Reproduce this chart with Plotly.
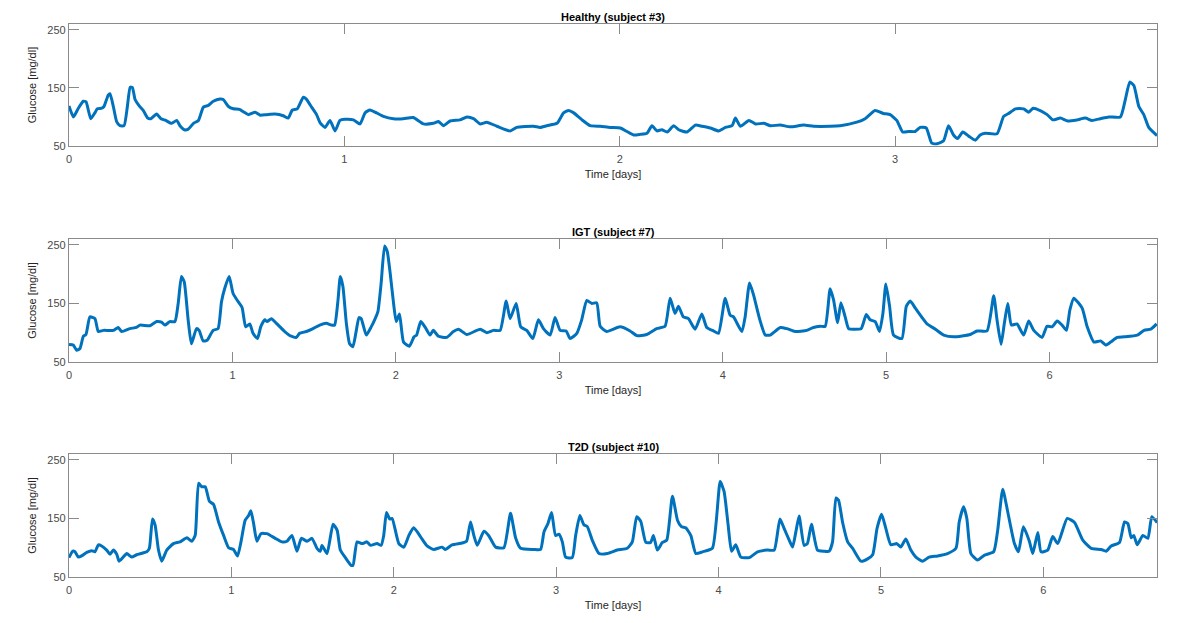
import plotly.graph_objects as go

# ---------------- data ----------------
healthy_t = [0, 0.016, 0.034, 0.052, 0.062, 0.079, 0.094, 0.103, 0.119, 0.127, 0.143, 0.149, 0.161, 0.173, 0.185, 0.2,
             0.212, 0.222, 0.23, 0.24, 0.255, 0.27, 0.286, 0.297, 0.318, 0.334, 0.351, 0.373, 0.391, 0.403, 0.419, 0.433,
             0.452, 0.47, 0.488, 0.506, 0.524, 0.548, 0.56, 0.579, 0.597, 0.619, 0.633, 0.651, 0.676, 0.694, 0.718, 0.748,
             0.778, 0.796, 0.811, 0.829, 0.851, 0.861, 0.881, 0.899, 0.912, 0.93, 0.948, 0.966, 0.984, 1.002, 1.033, 1.057,
             1.075, 1.093, 1.117, 1.142, 1.178, 1.214, 1.25,
             1.287, 1.323, 1.342, 1.36, 1.384, 1.42, 1.445, 1.469, 1.493, 1.517, 1.554, 1.602, 1.626, 1.687, 1.711, 1.735,
             1.772, 1.796, 1.814, 1.833, 1.863, 1.893, 1.929, 1.965, 2.002, 2.026, 2.05, 2.074, 2.099, 2.117, 2.135, 2.153,
             2.172, 2.196, 2.214, 2.244, 2.275, 2.299, 2.329, 2.359, 2.384, 2.408, 2.42, 2.438, 2.469, 2.493, 2.523, 2.547,
             2.583, 2.619, 2.668, 2.704, 2.765, 2.8, 2.861, 2.891, 2.927, 2.958, 2.982, 3.006, 3.028, 3.049, 3.073, 3.091,
             3.113, 3.133, 3.152, 3.176, 3.194, 3.212, 3.227, 3.246, 3.267, 3.291, 3.309, 3.327, 3.37, 3.394, 3.412, 3.437,
             3.467, 3.485, 3.501, 3.527, 3.552, 3.573, 3.6, 3.627, 3.661, 3.691, 3.715, 3.745, 3.776, 3.818, 3.836, 3.852,
             3.867, 3.885, 3.903, 3.921, 3.951]
healthy_g = [119, 100, 115, 127, 126, 97, 107, 114, 115, 118, 138, 140, 118, 92, 85, 85,
             118, 151, 151, 130, 119, 111, 98, 97, 105, 97, 94, 89, 94, 85, 78, 79,
             89, 94, 117, 120, 127, 131, 130, 118, 114, 113, 109, 104, 108, 103, 104, 105,
             102, 98, 112, 114, 134, 131, 117, 104, 90, 82, 94, 76, 94, 96, 95, 88,
             107, 112, 107, 101, 97, 97, 99,
             88, 89, 92, 85, 93, 95, 100, 97, 88, 91, 84, 76, 82, 84, 82, 85,
             89, 107, 111, 107, 95, 85, 84, 82, 81, 75, 69, 70, 72, 85, 76, 78,
             74, 85, 78, 74, 86, 84, 81, 76, 82, 85, 98, 84, 94, 88, 89, 85,
             86, 83, 86, 84, 84, 85, 91, 97, 111, 106, 104, 94, 74, 75, 75, 82,
             81, 55, 54, 59, 85, 69, 63, 74, 67, 60, 69, 72, 71, 101, 106, 114,
             114, 108, 115, 111, 104, 95, 98, 93, 95, 98, 94, 97, 100, 100, 130, 160,
             154, 118, 104, 82, 68]

igt_t = [0, 0.026, 0.047, 0.067, 0.088, 0.104, 0.128, 0.159, 0.179, 0.21, 0.271, 0.301, 0.322, 0.373, 0.413, 0.434,
         0.495, 0.536, 0.566, 0.587, 0.617, 0.648, 0.668, 0.688, 0.705, 0.729, 0.749, 0.78, 0.796, 0.821, 0.845, 0.882,
         0.912, 0.933, 0.953, 0.98, 1.004, 1.035, 1.059, 1.081, 1.106, 1.126, 1.153, 1.173, 1.198, 1.212, 1.238, 1.269,
         1.32, 1.36, 1.391, 1.411, 1.452, 1.493, 1.534, 1.574, 1.605, 1.625, 1.646, 1.66, 1.676, 1.697, 1.717, 1.737,
         1.758, 1.774, 1.788, 1.819, 1.849, 1.87, 1.89, 1.91, 1.931, 1.947, 1.965, 1.988, 2.002, 2.022, 2.047, 2.083,
         2.111, 2.127, 2.152, 2.178, 2.209, 2.229, 2.26, 2.311, 2.352, 2.383, 2.434, 2.516, 2.556, 2.597, 2.638, 2.675,
         2.699, 2.736, 2.764, 2.801, 2.838, 2.872, 2.903, 2.944, 2.974, 3.005, 3.042, 3.066, 3.107, 3.137, 3.168, 3.199,
         3.229, 3.25, 3.29, 3.372, 3.433, 3.474, 3.535, 3.596, 3.647, 3.678, 3.708, 3.729, 3.759, 3.79, 3.831, 3.872,
         3.902, 3.943, 3.974, 4.015, 4.045, 4.066, 4.117, 4.137, 4.164, 4.188, 4.225, 4.26, 4.29, 4.352,
         4.392, 4.443, 4.514, 4.555, 4.596, 4.627, 4.657, 4.678, 4.703, 4.723, 4.749, 4.77, 4.8, 4.847, 4.878, 4.902,
         4.933, 4.959, 4.98, 4.998, 5.021, 5.045, 5.096, 5.123, 5.147, 5.178, 5.219, 5.25, 5.301, 5.352, 5.413, 5.515,
         5.556, 5.617, 5.658, 5.678, 5.703, 5.723, 5.744, 5.766, 5.8, 5.841, 5.872, 5.903, 5.954, 5.984, 6.015, 6.046,
         6.076, 6.103, 6.124, 6.148, 6.199, 6.23, 6.271, 6.312, 6.343, 6.373, 6.414, 6.455, 6.537, 6.578, 6.619, 6.655]
igt_g = [80, 79, 70, 73, 94, 97, 127, 124, 102, 104, 104, 109, 102, 107, 109, 113,
         112, 119, 118, 113, 119, 119, 150, 196, 187, 122, 81, 107, 104, 86, 87, 104,
         107, 153, 176, 196, 167, 153, 143, 110, 115, 99, 90, 110, 122, 119, 124, 116,
         102, 94, 92, 99, 102, 107, 113, 116, 113, 113, 156, 196, 179, 116, 81, 76,
         104, 126, 124, 96, 110, 122, 136, 185, 248, 239, 202, 145, 119, 132, 84, 77,
         93, 96, 119, 110, 96, 104, 94, 92, 102, 106, 97, 106, 100, 104, 104, 154,
         124, 150, 110, 104, 90, 122, 107, 96, 126, 104, 103, 90, 99, 122, 155, 150,
         151, 111, 102, 110, 103, 95, 97, 107, 111, 159, 133, 145, 127, 124, 106, 132,
         109, 103, 99, 159, 130, 127, 102, 127, 185, 165, 124, 96, 96, 109,
         107, 102, 104, 109, 111, 111, 175, 156, 117, 151, 127, 107, 106, 107, 131, 122,
         119, 102, 133, 183, 145, 96, 90, 145, 154, 142, 126, 115, 106, 96, 93, 97,
         103, 103, 163, 122, 80, 116, 150, 113, 115, 96, 120, 104, 92, 111, 110, 120,
         113, 104, 139, 159, 142, 110, 84, 86, 79, 84, 92, 93, 96, 104, 106, 115]

t2d_t = [0, 0.023, 0.037, 0.058, 0.078, 0.109, 0.14, 0.16, 0.181, 0.201, 0.232, 0.253, 0.273, 0.294, 0.308, 0.331,
         0.356, 0.386, 0.417, 0.479, 0.495, 0.514, 0.53, 0.551, 0.571, 0.602, 0.643, 0.684, 0.726, 0.756, 0.777, 0.798,
         0.818, 0.839, 0.865, 0.89, 0.921, 0.952, 0.983, 1.013, 1.038, 1.059, 1.085, 1.106, 1.12, 1.137, 1.157, 1.182,
         1.219, 1.27, 1.311, 1.342, 1.373, 1.404, 1.431, 1.466, 1.496, 1.527, 1.548, 1.558, 1.589, 1.626, 1.651, 1.671,
         1.702, 1.737, 1.749, 1.774, 1.805, 1.835, 1.856, 1.897, 1.922, 1.938, 1.955, 1.975, 1.99, 2.031, 2.062, 2.093,
         2.123, 2.164, 2.205, 2.246, 2.298, 2.318, 2.359, 2.421, 2.448, 2.473, 2.493, 2.514, 2.555, 2.586, 2.627, 2.678,
         2.719, 2.75, 2.781, 2.863, 2.904, 2.925, 2.949, 2.972, 2.996, 3.017, 3.038, 3.058, 3.099, 3.12, 3.146, 3.171,
         3.192, 3.222, 3.264, 3.315, 3.376, 3.438, 3.469, 3.496, 3.521, 3.552, 3.582, 3.599, 3.623, 3.654, 3.681, 3.716,
         3.747, 3.771, 3.798, 3.829, 3.86, 3.901, 3.962, 4.01, 4.034, 4.059, 4.08, 4.106, 4.137, 4.189, 4.24, 4.302,
         4.343, 4.378, 4.405, 4.435, 4.456, 4.476, 4.496, 4.527, 4.547, 4.572, 4.609, 4.65, 4.681, 4.702, 4.723, 4.739,
         4.764, 4.795, 4.826, 4.877, 4.918, 4.949, 4.976, 5.004, 5.03, 5.061, 5.098, 5.122, 5.153, 5.184, 5.215, 5.256,
         5.297, 5.349, 5.41, 5.462, 5.482, 5.509, 5.529, 5.554, 5.595, 5.636, 5.694, 5.719, 5.75, 5.781, 5.822, 5.847,
         5.877, 5.914, 5.935, 5.966, 5.986, 6.027, 6.058, 6.089, 6.147, 6.192, 6.243, 6.295, 6.356, 6.387, 6.418, 6.469,
         6.5, 6.521, 6.541, 6.557, 6.578, 6.613, 6.644, 6.668, 6.701]
t2d_g = [83, 94, 93, 84, 86, 92, 95, 93, 105, 103, 96, 89, 96, 89, 77, 83,
         90, 84, 88, 93, 99, 149, 139, 96, 77, 96, 107, 110, 117, 111, 121, 210,
         204, 204, 179, 174, 144, 121, 100, 97, 86, 110, 147, 155, 163, 141, 111, 124,
         124, 116, 110, 111, 121, 94, 116, 111, 116, 99, 94, 104, 90, 140, 130, 96,
         83, 70, 70, 110, 107, 110, 104, 107, 104, 121, 160, 149, 150, 107, 101, 121,
         134, 119, 103, 97, 101, 97, 105, 108, 111, 144, 121, 104, 128, 120, 101, 100,
         159, 117, 99, 97, 97, 127, 141, 160, 121, 123, 110, 84, 83, 121, 155, 139,
         136, 113, 90, 90, 96, 99, 110, 153, 145, 109, 109, 121, 96, 109, 113, 188,
         147, 136, 134, 121, 90, 93, 99, 213, 196, 139, 94, 105, 84, 83, 93, 96,
         96, 149, 132, 113, 101, 127, 154, 104, 107, 140, 96, 94, 94, 110, 185, 181,
         143, 110, 99, 77, 81, 88, 133, 157, 133, 105, 107, 101, 115, 96, 84, 77,
         84, 86, 90, 99, 144, 170, 150, 90, 79, 87, 93, 130, 200, 161, 107, 93,
         136, 111, 90, 126, 93, 96, 119, 107, 150, 143, 113, 99, 97, 94, 103, 109,
         144, 141, 117, 121, 105, 121, 116, 153, 143]

titles = ["Healthy (subject #3)", "IGT (subject #7)", "T2D (subject #10)"]
x_max = [3.951, 6.657, 6.70]
y_range = [50, 260]
y_ticks = [50, 150, 250]
x_label = "Time [days]"
y_label = "Glucose [mg/dl]"

series = [(healthy_t, healthy_g), (igt_t, igt_g), (t2d_t, t2d_g)]

# ---------------- layout geometry ----------------
W, H = 1191, 623
ML, MR, MT, MB = 69, 34, 24, 46
PH = H - MT - MB
# pixel top/bottom of each axes box
boxes = [(24, 146), (239, 362), (454, 577)]
domains = [[1 - (b - MT) / PH, 1 - (t - MT) / PH] for t, b in boxes]

LINE = "#0072BD"
FRAME = "#8a8a8a"
TXT = "#262626"
TICKTXT = "#4a4a4a"
FONT = "Liberation Sans, Arial, sans-serif"

fig = go.Figure()
layout = dict(
    width=W, height=H,
    margin=dict(l=ML, r=MR, t=MT, b=MB),
    paper_bgcolor="white", plot_bgcolor="white",
    showlegend=False,
    font=dict(family=FONT, size=11, color=TXT),
)
annotations = []
for i, (t, g) in enumerate(series):
    n = "" if i == 0 else str(i + 1)
    fig.add_trace(go.Scatter(
        x=t, y=g, mode="lines", xaxis="x" + n, yaxis="y" + n,
        line=dict(color=LINE, width=3, shape="spline", smoothing=0.5),
        hoverinfo="x+y",
    ))
    layout["xaxis" + n] = dict(
        domain=[0, 1], anchor="y" + n, range=[0, x_max[i]],
        dtick=1, tick0=0, ticks="inside", ticklen=10, tickwidth=1.2, tickcolor=FRAME,
        showline=True, linecolor=FRAME, linewidth=1.2, mirror="allticks",
        showgrid=False, zeroline=False, ticklabelstandoff=3,
        tickfont=dict(size=11, color=TICKTXT, family=FONT),
        title=dict(text=x_label, font=dict(size=11, color=TXT, family=FONT), standoff=6),
    )
    layout["yaxis" + n] = dict(
        domain=domains[i], anchor="x" + n, range=y_range,
        tickvals=y_ticks, ticks="inside", ticklen=10, tickwidth=1.2, tickcolor=FRAME,
        showline=True, linecolor=FRAME, linewidth=1.2, mirror="allticks",
        showgrid=False, zeroline=False,
        tickfont=dict(size=11, color=TICKTXT, family=FONT),
        title=dict(text=y_label, font=dict(size=11, color=TXT, family=FONT), standoff=8),
    )
    annotations.append(dict(
        text="<b>" + titles[i] + "</b>", x=0.5, xref="paper", xanchor="center",
        y=domains[i][1], yref="paper", yanchor="bottom", yshift=-1,
        showarrow=False, font=dict(size=11, color="#000000", family=FONT),
    ))
layout["annotations"] = annotations
fig.update_layout(**layout)
fig.write_html("out.html")
